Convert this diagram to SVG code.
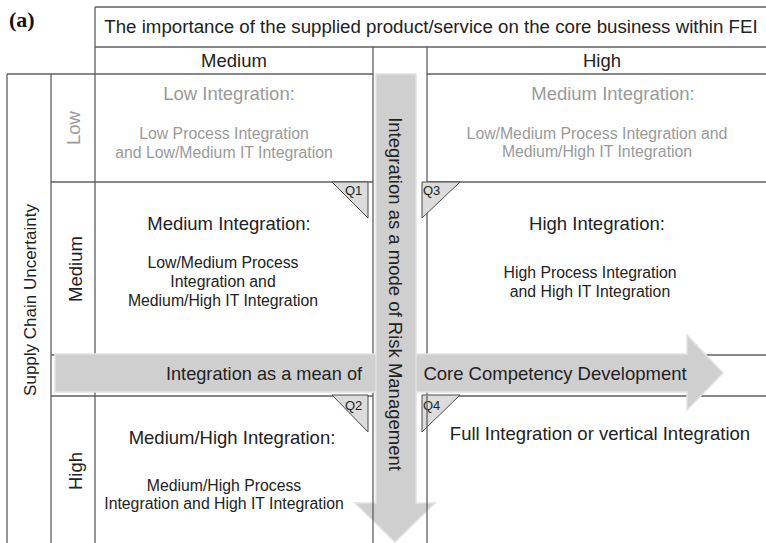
<svg xmlns="http://www.w3.org/2000/svg" width="766" height="543" viewBox="0 0 766 543">
  <style>
    .grid { stroke: #5f5f5f; stroke-width: 1.3; fill: none; }
    .t { font-family: "Liberation Sans", Arial, sans-serif; fill: #222; text-anchor: middle; }
    .dim { fill: #9a9a9a; }
    .h1 { font-size: 18.5px; }
    .h2 { font-size: 15.8px; }
    .q { font-family: "Liberation Sans", Arial, sans-serif; font-size: 13px; fill: #222; }
    .tri { fill: #dcdcdc; stroke: #4a4a4a; stroke-width: 1; }
    .arrow { fill: #cfcfd0; stroke: #e2e2e2; stroke-width: 1.5; }
  </style>

  <!-- panel label -->
  <text x="9" y="27" font-family="'Liberation Serif', 'Times New Roman', serif" font-weight="bold" font-size="22" fill="#111">(a)</text>

  <!-- table rules -->
  <g id="grid" class="grid">
    <line x1="95" y1="7" x2="766" y2="7"/>
    <line x1="95" y1="47" x2="766" y2="47"/>
    <line x1="7" y1="74" x2="373" y2="74"/>
    <line x1="427" y1="74" x2="766" y2="74"/>
    <line x1="51" y1="182" x2="373" y2="182"/>
    <line x1="427" y1="182" x2="766" y2="182"/>
    <line x1="51" y1="355" x2="373" y2="355"/>
    <line x1="427" y1="355" x2="766" y2="355"/>
    <line x1="51" y1="396" x2="373" y2="396"/>
    <line x1="427" y1="396" x2="766" y2="396"/>
    <line x1="95" y1="7" x2="95" y2="543"/>
    <line x1="7" y1="74" x2="7" y2="543"/>
    <line x1="51" y1="74" x2="51" y2="543"/>
    <line x1="373" y1="47" x2="373" y2="396"/>
    <line x1="427" y1="47" x2="427" y2="396"/>
  </g>

  <!-- column headings -->
  <g id="header">
    <text class="t" font-size="18.7" x="431" y="33">The importance of the supplied product/service on the core business within FEI</text>
    <text class="t h1" x="234" y="67">Medium</text>
    <text class="t h1" x="602" y="67">High</text>
  </g>

  <!-- row headings -->
  <g id="row-axis">
    <text class="t" font-size="17" transform="translate(30,300) rotate(-90)" dominant-baseline="central">Supply Chain Uncertainty</text>
    <text class="t dim h1" transform="translate(73,128) rotate(-90)" dominant-baseline="central">Low</text>
    <text class="t h1" transform="translate(75,269) rotate(-90)" dominant-baseline="central">Medium</text>
    <text class="t h1" transform="translate(75,471) rotate(-90)" dominant-baseline="central">High</text>
  </g>

  <!-- cells -->
  <g id="cell-low-medium">
    <text class="t dim h1" x="229" y="100">Low Integration:</text>
    <text class="t dim h2" x="224" y="139">Low Process Integration</text>
    <text class="t dim h2" x="224" y="158">and Low/Medium IT Integration</text>
  </g>
  <g id="cell-low-high">
    <text class="t dim h1" x="613" y="100">Medium Integration:</text>
    <text class="t dim h2" x="597" y="139">Low/Medium Process Integration and</text>
    <text class="t dim h2" x="597" y="157">Medium/High IT Integration</text>
  </g>
  <g id="cell-medium-medium">
    <text class="t h1" x="229" y="230">Medium Integration:</text>
    <text class="t h2" x="223" y="268">Low/Medium Process</text>
    <text class="t h2" x="223" y="287">Integration and</text>
    <text class="t h2" x="223" y="306">Medium/High IT Integration</text>
  </g>
  <g id="cell-medium-high">
    <text class="t h1" x="597" y="230">High Integration:</text>
    <text class="t h2" x="590" y="278">High Process Integration</text>
    <text class="t h2" x="590" y="297">and High IT Integration</text>
  </g>
  <g id="cell-high-medium">
    <text class="t h1" x="232" y="444">Medium/High Integration:</text>
    <text class="t h2" x="224" y="491">Medium/High Process</text>
    <text class="t h2" x="224" y="509">Integration and High IT Integration</text>
  </g>
  <g id="cell-high-high">
    <text class="t h1" x="600" y="440">Full Integration or vertical Integration</text>
  </g>

  <!-- quadrant tags -->
  <g id="q1">
    <polygon class="tri" points="332,182 368,182 368,218"/>
    <text class="q" x="345" y="195">Q1</text>
  </g>
  <g id="q3">
    <polygon class="tri" points="422,182 460,182 422,218"/>
    <text class="q" x="423" y="195">Q3</text>
  </g>
  <g id="q2">
    <polygon class="tri" points="332,395 368,395 368,432"/>
    <text class="q" x="345" y="410">Q2</text>
  </g>
  <g id="q4">
    <polygon class="tri" points="422,395 460,395 422,432"/>
    <text class="q" x="423" y="410">Q4</text>
  </g>

  <!-- block arrows -->
  <g id="arrows">
    <g id="arrow-core-competency">
      <polygon class="arrow" points="55,354 687,354 687,335 723,373 687,410 687,392 55,392"/>
      <text class="t" font-size="18.2" x="264" y="380">Integration as a mean of</text>
      <text class="t h1" x="555" y="380">Core Competency Development</text>
    </g>
    <g id="arrow-risk-management">
      <polygon class="arrow" points="376,74 416,74 416,503 435,503 395,542 355,503 376,503"/>
      <text class="t h1" transform="translate(395,294) rotate(90)" dominant-baseline="central">Integration as a mode of Risk Management</text>
    </g>
  </g>

  <!-- column rules running over the arrow head -->
  <g class="grid">
    <line x1="373" y1="396" x2="373" y2="543"/>
    <line x1="427" y1="396" x2="427" y2="543"/>
  </g>
</svg>
